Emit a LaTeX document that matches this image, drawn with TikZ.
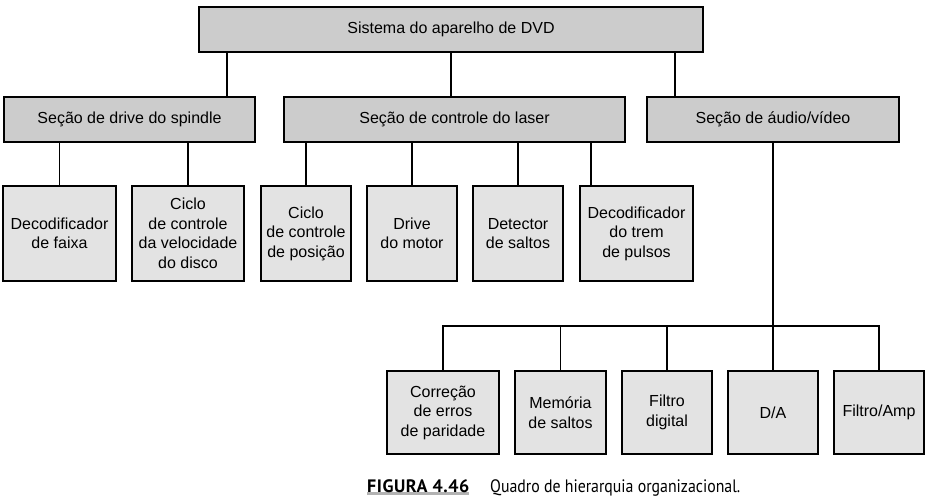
\documentclass[tikz,border=0pt]{standalone}
\usepackage{fontspec}
\setmainfont{Liberation Sans}
\newfontfamily\capfont[FakeStretch=0.88]{PT Sans}
\newfontfamily\caplabelfont[FakeStretch=1.0, LetterSpace=3]{PT Sans}
\usetikzlibrary{positioning, calc, backgrounds}

\definecolor{boxDark}{gray}{0.80}
\definecolor{boxLight}{gray}{0.89}

\tikzstyle{box}=[draw, line width=1.2pt, inner sep=0pt, align=center, font=\fontsize{16}{19.5}\selectfont]
\tikzstyle{sectionBox}=[box, fill=boxDark, minimum height=45pt]
\tikzstyle{unitBox}=[box, fill=boxLight, minimum height=95pt]
\tikzstyle{audioBox}=[box, fill=boxLight, minimum height=83pt]
\tikzstyle{link}=[line width=1.8pt]
\tikzstyle{caption}=[anchor=base west, inner sep=0pt]

\begin{document}
\begin{tikzpicture}[x=1pt, y=-1pt]
        \useasboundingbox (0, 0) rectangle (931, 497);

        % topo
        \node[sectionBox, minimum width=504pt] (sys) at (451, 29.5) {Sistema do aparelho de DVD};

        % secoes
        \node[sectionBox, minimum width=251pt] (spindle) at (129.5, 119.5) {Seção de drive do spindle};
        \node[sectionBox, minimum width=341pt] (laser) at (454.5, 119.5) {Seção de controle do laser};
        \node[sectionBox, minimum width=252pt] (audio) at (773, 119.5) {Seção de áudio/vídeo};

        % unidades
        \node[unitBox, minimum width=113pt] (faixa) at (59.5, 233.5) {Decodificador\\de faixa};
        \node[unitBox, minimum width=112pt] (velocidade) at (188, 233.5) {Ciclo\\de controle\\da velocidade\\do disco};
        \node[unitBox, minimum width=90pt] (posicao) at (306, 233.5) {Ciclo\\de controle\\de posição};
        \node[unitBox, minimum width=90pt] (motor) at (412, 233.5) {Drive\\do motor};
        \node[unitBox, minimum width=90pt] (saltos) at (518, 233.5) {Detector\\de saltos};
        \node[unitBox, minimum width=113pt] (trem) at (636.5, 233.5) {Decodificador\\do trem\\de pulsos};

        \node[audioBox, minimum width=112pt] (paridade) at (443, 412.5) {Correção\\de erros\\de paridade};
        \node[audioBox, minimum width=91pt] (memoria) at (560.5, 412.5) {Memória\\de saltos};
        \node[audioBox, minimum width=90pt] (digital) at (667, 412.5) {Filtro\\digital};
        \node[audioBox, minimum width=90pt] (da) at (773, 412.5) {D/A};
        \node[audioBox, minimum width=90pt] (amp) at (879, 412.5) {Filtro/Amp};

        \coordinate (bar) at (773, 326);

        % ligacoes
        \draw[link] (sys.south -| 227, 0) -- (spindle.north -| 227, 0);
        \draw[link] (sys.south -| 451, 0) -- (laser.north -| 451, 0);
        \draw[link] (sys.south -| 675, 0) -- (audio.north -| 675, 0);

        \draw[link] (spindle.south -| faixa.north) -- (faixa.north);
        \draw[link] (spindle.south -| velocidade.north) -- (velocidade.north);

        \draw[link] (laser.south -| posicao.north) -- (posicao.north);
        \draw[link] (laser.south -| motor.north) -- (motor.north);
        \draw[link] (laser.south -| saltos.north) -- (saltos.north);
        \draw[link] (laser.south -| 591, 0) -- (trem.north -| 591, 0);

        \draw[link] (audio.south) -- (bar);
        \draw[link] (paridade.north) -- (paridade.north |- bar) -- (amp.north |- bar) -- (amp.north);
        \draw[link] (memoria.north) -- (memoria.north |- bar);
        \draw[link] (digital.north) -- (digital.north |- bar);
        \draw[link] (da.north) -- (bar);

        % legenda
        \node[caption, font=\caplabelfont\bfseries\fontsize{18}{20}\selectfont] (figlabel) at (367, 492) {FIGURA 4.46};
        \node[caption, font=\capfont\fontsize{18}{20}\selectfont] (figtext) at (490, 492) {Quadro de hierarquia organizacional.};
        \begin{scope}[on background layer]
            \fill[gray!60] ($(figlabel.base west) + (0, -0.5)$) rectangle ($(figlabel.base east) + (0, 3)$);
        \end{scope}
\end{tikzpicture}
\end{document}
